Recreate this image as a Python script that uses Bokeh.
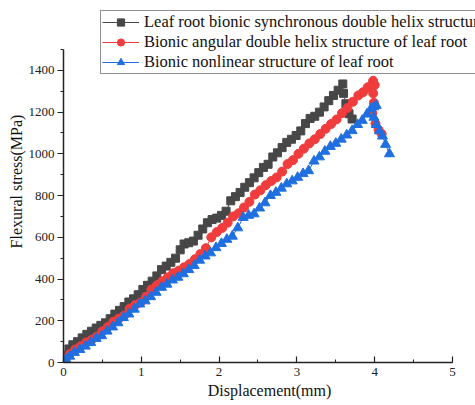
from bokeh.plotting import figure
from bokeh.models import (Legend, LegendItem, SingleIntervalTicker, Range1d)
from bokeh.embed import file_html
from bokeh.resources import INLINE

# ---- data ----
black_x = [0, 0.03, 0.07, 0.12, 0.18, 0.24, 0.30, 0.36, 0.42, 0.48,
           0.54, 0.60, 0.66, 0.72, 0.78, 0.84, 0.90, 0.96, 1.02, 1.08,
           1.14, 1.20, 1.26, 1.32, 1.38, 1.44, 1.50, 1.55, 1.61, 1.67,
           1.73, 1.79, 1.85, 1.91, 1.97, 2.03, 2.09, 2.15, 2.21, 2.27,
           2.33, 2.39, 2.45, 2.51, 2.57, 2.63, 2.69, 2.75, 2.81, 2.87,
           2.93, 2.99, 3.05, 3.11, 3.17, 3.23, 3.29, 3.35, 3.41, 3.47,
           3.53, 3.59, 3.60, 3.63, 3.67, 3.71]
black_y = [0, 35, 65, 85, 100, 118, 135, 150, 165, 178,
           190, 210, 232, 250, 268, 290, 305, 325, 350, 370,
           390, 415, 445, 462, 480, 500, 540, 568, 574, 582,
           610, 640, 670, 685, 692, 705, 725, 775, 795, 815,
           840, 862, 885, 910, 935, 950, 985, 1005, 1030, 1055,
           1070, 1088, 1110, 1145, 1170, 1180, 1200, 1225, 1255, 1280,
           1305, 1335, 1290, 1240, 1192, 1167]

red_x = [0, 0.03, 0.08, 0.15, 0.22, 0.29, 0.36, 0.43, 0.50, 0.57,
         0.64, 0.71, 0.78, 0.85, 0.92, 0.99, 1.06, 1.13, 1.20, 1.27,
         1.34, 1.41, 1.48, 1.55, 1.62, 1.69, 1.76, 1.83, 1.90, 1.97,
         2.04, 2.11, 2.18, 2.25, 2.32, 2.39, 2.46, 2.53, 2.60, 2.67,
         2.74, 2.81, 2.88, 2.95, 3.02, 3.09, 3.16, 3.23, 3.30, 3.37,
         3.44, 3.51, 3.58, 3.65, 3.72, 3.79, 3.85, 3.91, 3.95, 3.98,
         4.00, 3.98, 3.99, 3.97, 4.01, 4.05, 4.09]
red_y = [0, 20, 40, 62, 78, 96, 108, 125, 150, 170,
         195, 210, 225, 258, 275, 288, 315, 350, 370, 390,
         408, 428, 440, 456, 472, 495, 520, 548, 600, 625,
         645, 670, 700, 715, 743, 770, 805, 825, 850, 870,
         887, 915, 951, 970, 1000, 1025, 1050, 1070, 1095, 1120,
         1143, 1165, 1195, 1220, 1250, 1280, 1295, 1319, 1325, 1350,
         1330, 1290, 1245, 1195, 1145, 1115, 1095]

blue_x = [0, 0.03, 0.08, 0.14, 0.21, 0.28, 0.35, 0.42, 0.49, 0.56,
          0.63, 0.70, 0.77, 0.84, 0.91, 0.98, 1.05, 1.12, 1.19, 1.26,
          1.33, 1.40, 1.47, 1.54, 1.61, 1.68, 1.75, 1.82, 1.89, 1.96,
          2.03, 2.10, 2.17, 2.24, 2.31, 2.38, 2.45, 2.52, 2.59, 2.66,
          2.73, 2.80, 2.87, 2.94, 3.01, 3.08, 3.15, 3.22, 3.29, 3.36,
          3.43, 3.50, 3.57, 3.64, 3.71, 3.78, 3.84, 3.90, 3.95, 3.99,
          4.02, 3.99, 4.02, 4.06, 4.10, 4.14, 4.19]
blue_y = [0, 15, 30, 48, 62, 78, 95, 115, 128, 150,
          170, 190, 215, 232, 255, 280, 295, 315, 336, 360,
          375, 395, 408, 425, 445, 464, 490, 510, 525, 550,
          570, 590, 605, 645, 695, 705, 712, 740, 765, 800,
          815, 835, 856, 870, 887, 905, 919, 965, 985, 1012,
          1035, 1050, 1070, 1090, 1111, 1140, 1160, 1190, 1215, 1225,
          1232, 1175, 1140, 1110, 1085, 1045, 1000]

series_names = ["Leaf root bionic synchronous double helix structure",
                "Bionic angular double helix structure of leaf root",
                "Bionic nonlinear structure of leaf root"]

x_axis_span = (0, 5)
y_axis_span = (0, 1500)

FONT = "Liberation Serif"
C_BLACK = "#474747"
C_RED = "#f03c3c"
C_BLUE = "#1f6fe0"

# frame spans to the canvas top/right; axis lines are bounded to the data span
p = figure(width=475, height=405, output_backend="svg", toolbar_location=None,
           x_range=Range1d(0, 5.296), y_range=Range1d(0, 1735),
           min_border_left=63, min_border_right=0, min_border_top=0,
           min_border_bottom=43)
p.outline_line_color = None
p.grid.grid_line_color = None
p.background_fill_color = "white"

# axes
p.xaxis.ticker = SingleIntervalTicker(interval=1, num_minor_ticks=2)
p.yaxis.ticker = SingleIntervalTicker(interval=200, num_minor_ticks=2)
p.xaxis.bounds = x_axis_span
p.yaxis.bounds = y_axis_span
for ax in (p.xaxis, p.yaxis):
    ax.axis_line_color = "#222222"
    ax.axis_line_width = 1.5
    ax.major_tick_line_color = "#222222"
    ax.minor_tick_line_color = "#222222"
    ax.major_tick_line_width = 1.2
    ax.minor_tick_line_width = 1.0
    ax.major_label_text_font = FONT
    ax.major_label_text_font_size = "13px"
    ax.major_label_text_color = "#222222"
    ax.axis_label_text_font = FONT
    ax.axis_label_text_font_size = "16px"
    ax.axis_label_text_font_style = "normal"
    ax.axis_label_text_color = "#111111"

p.xaxis.major_tick_in = 6
p.xaxis.major_tick_out = 0
p.xaxis.minor_tick_in = 3
p.xaxis.minor_tick_out = 0
p.xaxis.major_label_standoff = 5
p.xaxis.axis_label = "Displacement(mm)"
p.xaxis.axis_label_standoff = 3

p.yaxis.major_tick_in = 0
p.yaxis.major_tick_out = 6
p.yaxis.minor_tick_in = 0
p.yaxis.minor_tick_out = 3
p.yaxis.major_label_standoff = 3
p.yaxis.axis_label = "Flexural stress(MPa)"
p.yaxis.axis_label_standoff = 1

# series
l1 = p.line(black_x, black_y, line_color=C_BLACK, line_width=1)
s1 = p.scatter(black_x, black_y, marker="square", size=8,
               fill_color=C_BLACK, line_color=C_BLACK)
l2 = p.line(red_x, red_y, line_color=C_RED, line_width=1)
s2 = p.scatter(red_x, red_y, marker="circle", size=9,
               fill_color=C_RED, line_color=C_RED)
l3 = p.line(blue_x, blue_y, line_color=C_BLUE, line_width=1)
s3 = p.scatter(blue_x, blue_y, marker="triangle", size=10,
               fill_color=C_BLUE, line_color=C_BLUE)

legend = Legend(items=[
    LegendItem(label=series_names[0], renderers=[l1, s1]),
    LegendItem(label=series_names[1], renderers=[l2, s2]),
    LegendItem(label=series_names[2], renderers=[l3, s3]),
], location=(37, 288))
legend.label_text_font = FONT
legend.label_text_font_size = "16.5px"
legend.label_text_color = "#111111"
legend.glyph_width = 37
legend.glyph_height = 18
legend.label_height = 20
legend.spacing = 0
legend.padding = 1
legend.margin = 0
legend.label_standoff = 5
legend.border_line_color = "#222222"
legend.border_line_width = 1
legend.background_fill_alpha = 1.0
p.add_layout(legend)

open("out.html", "w").write(file_html(p, INLINE))
